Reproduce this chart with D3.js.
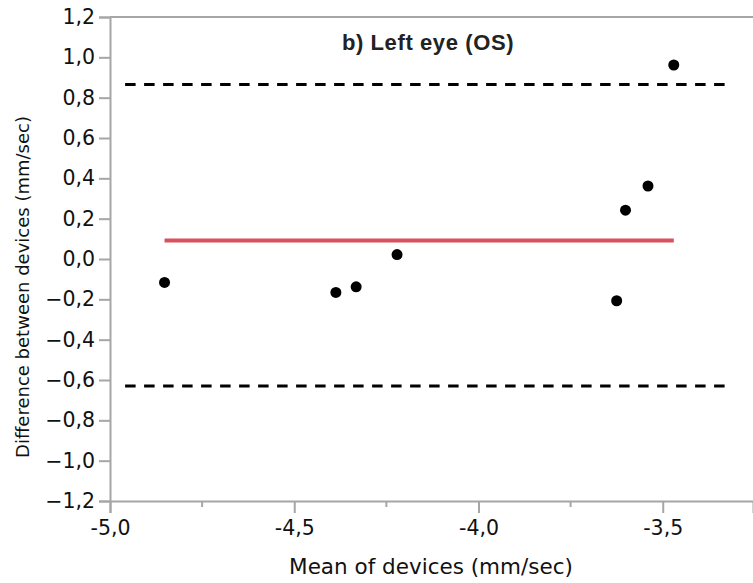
<!DOCTYPE html>
<html>
<head>
<meta charset="utf-8">
<script src="https://cdn.jsdelivr.net/npm/d3@7"></script>
<style>
  html, body { margin: 0; padding: 0; background: #fff; }
  svg { display: block; }
</style>
</head>
<body>
<svg id="chart" width="753" height="583"></svg>
<script>
// ---- data ----
const meanOfDevices = [-4.852, -4.387, -4.332, -4.221, -3.625, -3.601, -3.540, -3.470];
const diffBetween   = [-0.116, -0.166, -0.138, 0.022, -0.207, 0.242, 0.362, 0.962];
const meanDiff = 0.092;
const upperLoA = 0.865;
const lowerLoA = -0.630;
const loaExtent = [-4.959, -3.318];
const xDomain = [-5.0, -3.255];
const yDomain = [-1.2, 1.2];
const xMajorTicks = [-5.0, -4.5, -4.0, -3.5];
const xMinorTicks = [-4.75, -4.25, -3.75];
const yTicks = [-1.2, -1.0, -0.8, -0.6, -0.4, -0.2, 0.0, 0.2, 0.4, 0.6, 0.8, 1.0, 1.2];
const title = "b) Left eye (OS)";
const xTitle = "Mean of devices (mm/sec)";
const yTitle = "Difference between devices (mm/sec)";

// ---- layout ----
const svg = d3.select("#chart");
const m = { left: 110, top: 17, right: 0, bottom: 82 };
const W = 753, H = 583;
const x = d3.scaleLinear().domain(xDomain).range([m.left, W - m.right]);
const y = d3.scaleLinear().domain(yDomain).range([H - m.bottom, m.top]);
const axisColor = "#a6a6a6";
const fmt = d3.format(".1f");
const comma = v => fmt(Math.abs(v)).replace(".", ",");

// top frame line
svg.append("line")
  .attr("x1", m.left).attr("x2", W).attr("y1", y(1.2)).attr("y2", y(1.2))
  .attr("stroke", axisColor).attr("stroke-width", 2);

// y axis
const yAxis = svg.append("g").attr("transform", `translate(${m.left},0)`)
  .call(d3.axisLeft(y).tickValues(yTicks).tickSize(11).tickPadding(4)
    .tickFormat(v => (v < -1e-9 ? "\u2212" : "") + comma(v)));
yAxis.select(".domain").attr("stroke", axisColor).attr("stroke-width", 2);
yAxis.selectAll(".tick line").attr("stroke", axisColor).attr("stroke-width", 2);
yAxis.selectAll(".tick text").attr("fill", "#111").style("font-family", "DejaVu Sans")
  .style("font-size", "20.5px");

// x axis
const xAxis = svg.append("g").attr("transform", `translate(0,${y(-1.2)})`)
  .call(d3.axisBottom(x).tickValues(xMajorTicks).tickSize(12).tickPadding(7)
    .tickFormat(v => (v < 0 ? "-" : "") + comma(v)));
xAxis.select(".domain").attr("stroke", axisColor).attr("stroke-width", 2);
xAxis.selectAll(".tick line").attr("stroke", axisColor).attr("stroke-width", 2);
xAxis.selectAll(".tick text").attr("fill", "#111").style("font-family", "DejaVu Sans")
  .style("font-size", "20.5px");
svg.append("g").selectAll("line").data(xMinorTicks).join("line")
  .attr("x1", d => x(d)).attr("x2", d => x(d))
  .attr("y1", y(-1.2)).attr("y2", y(-1.2) + 6)
  .attr("stroke", axisColor).attr("stroke-width", 2);

// limits of agreement
svg.append("g").selectAll("line").data([upperLoA, lowerLoA]).join("line")
  .attr("x1", x(loaExtent[0])).attr("x2", x(loaExtent[1]))
  .attr("y1", d => y(d)).attr("y2", d => y(d))
  .attr("stroke", "#000").attr("stroke-width", 3).attr("stroke-dasharray", "10.5,8.5");

// mean difference
const xe = d3.extent(meanOfDevices);
svg.append("line")
  .attr("x1", x(xe[0])).attr("x2", x(xe[1]))
  .attr("y1", y(meanDiff)).attr("y2", y(meanDiff))
  .attr("stroke", "#d9505f").attr("stroke-width", 4);

// points
svg.append("g").selectAll("circle").data(meanOfDevices).join("circle")
  .attr("cx", d => x(d)).attr("cy", (d, i) => y(diffBetween[i]))
  .attr("r", 5.5).attr("fill", "#000");

// titles
svg.append("text").attr("x", 428).attr("y", 50).attr("text-anchor", "middle")
  .style("font-family", "Liberation Sans").style("font-weight", "bold")
  .style("font-size", "22px").style("letter-spacing", "0.6px")
  .attr("fill", "#222").text(title);

svg.append("text").attr("x", 431).attr("y", 574).attr("text-anchor", "middle")
  .style("font-family", "DejaVu Sans").style("font-size", "21.5px")
  .attr("fill", "#111").text(xTitle);

svg.append("text").attr("transform", "translate(29,287) rotate(-90)")
  .attr("text-anchor", "middle")
  .style("font-family", "DejaVu Sans").style("font-size", "18px")
  .attr("fill", "#111").text(yTitle);
</script>
</body>
</html>
